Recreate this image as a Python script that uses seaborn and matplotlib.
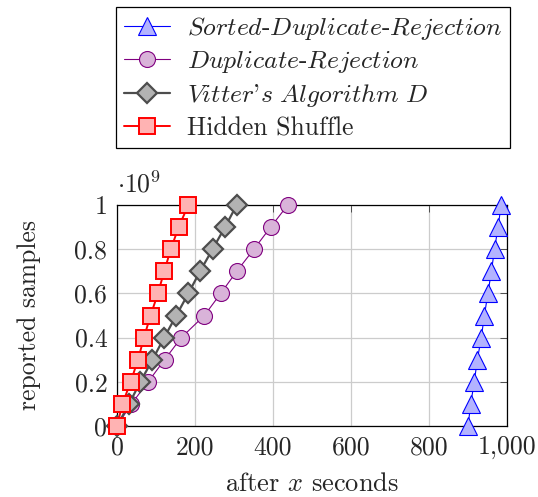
import numpy as np
import pandas as pd
import matplotlib
matplotlib.use("Agg")
import matplotlib.pyplot as plt
import seaborn as sns
from matplotlib.ticker import FuncFormatter

# reported samples (in units of 1e9)
samples = [0.0, 0.1, 0.2, 0.3, 0.4, 0.5, 0.6, 0.7, 0.8, 0.9, 1.0]

# seconds until each sample count was reported
sorted_dup_rej = [900, 907, 916, 924, 934, 942, 951, 960, 968, 977, 985]
dup_rej = [0, 37, 80, 122, 165, 224, 266, 307, 351, 394, 438]
vitter_d = [0, 31, 60, 91, 121, 152, 183, 213, 245, 277, 307]
hidden_shuffle = [0, 14, 35, 54, 69, 86, 105, 121, 138, 158, 183]

labels = [
    r"$\mathit{Sorted}$-$\mathit{Duplicate}$-$\mathit{Rejection}$",
    r"$\mathit{Duplicate}$-$\mathit{Rejection}$",
    r"$\mathit{Vitter}$'$\mathit{s\ Algorithm\ D}$",
    "Hidden Shuffle",
]

sns.set_style("white")
plt.rcParams["font.family"] = ["cmr10", "DejaVu Serif"]
plt.rcParams["mathtext.fontset"] = "cm"
plt.rcParams["axes.formatter.use_mathtext"] = True
plt.rcParams["axes.unicode_minus"] = False

fig = plt.figure(figsize=(5.38, 4.97), dpi=100)
ax = fig.add_axes([117 / 538, 1 - 426 / 497, 390 / 538, 221 / 497])

y = np.array(samples) * 1e9
styles = [
    (sorted_dup_rej, "^", (0, 0, 1), (0.70, 0.70, 1), 0.8, 13),
    (dup_rej, "o", (0.5, 0, 0.5), (0.85, 0.70, 0.85), 0.8, 11.5),
    (vitter_d, "D", (0.3, 0.3, 0.3), (0.70, 0.70, 0.70), 1.6, 10),
    (hidden_shuffle, "s", (1, 0, 0), (1, 0.70, 0.70), 1.4, 11),
]
for (xs, mk, ec, fc, lw, ms), lab in zip(styles, labels):
    sns.lineplot(x=xs, y=y, ax=ax, color=ec, marker=mk, markersize=ms,
                 markerfacecolor=fc, markeredgecolor=ec, markeredgewidth=lw,
                 linewidth=lw, label=lab, clip_on=False, zorder=3)

ax.set_xlim(0, 1000)
ax.set_ylim(0, 1e9)
ax.set_xticks([0, 200, 400, 600, 800, 1000])
ax.set_yticks(np.arange(0, 1.01, 0.2) * 1e9)
ax.xaxis.set_major_formatter(FuncFormatter(lambda v, p: f"{int(v):,}"))
ax.yaxis.set_major_formatter(FuncFormatter(lambda v, p: f"{v / 1e9:g}"))
ax.text(0.0, 1.035, r"$\cdot 10^9$", transform=ax.transAxes,
        fontsize=18.5, ha="left", va="bottom")

ax.grid(True, color=(0.8, 0.8, 0.8), linewidth=0.9, zorder=0)
ax.tick_params(direction="in", length=5, width=0.7, top=True, right=True,
               labelsize=18.5, pad=7, color=(0.3, 0.3, 0.3))
for s in ax.spines.values():
    s.set_color("black")
    s.set_linewidth(0.9)

ax.set_xlabel(r"after $x$ seconds", fontsize=19, labelpad=9)
ax.set_ylabel("reported samples", fontsize=18.5, labelpad=24)

handles, labs = ax.get_legend_handles_labels()
ax.get_legend().remove()
leg = fig.legend(handles, labs, loc="upper center",
                 bbox_to_anchor=(313 / 538, 1 - 7 / 497), fontsize=18.5,
                 frameon=True, fancybox=False, edgecolor="black",
                 framealpha=1, borderaxespad=0, handlelength=1.8,
                 handletextpad=0.65, labelspacing=0.28, borderpad=0.3)
leg.get_frame().set_linewidth(0.9)

fig.savefig("out.png", dpi=100)
